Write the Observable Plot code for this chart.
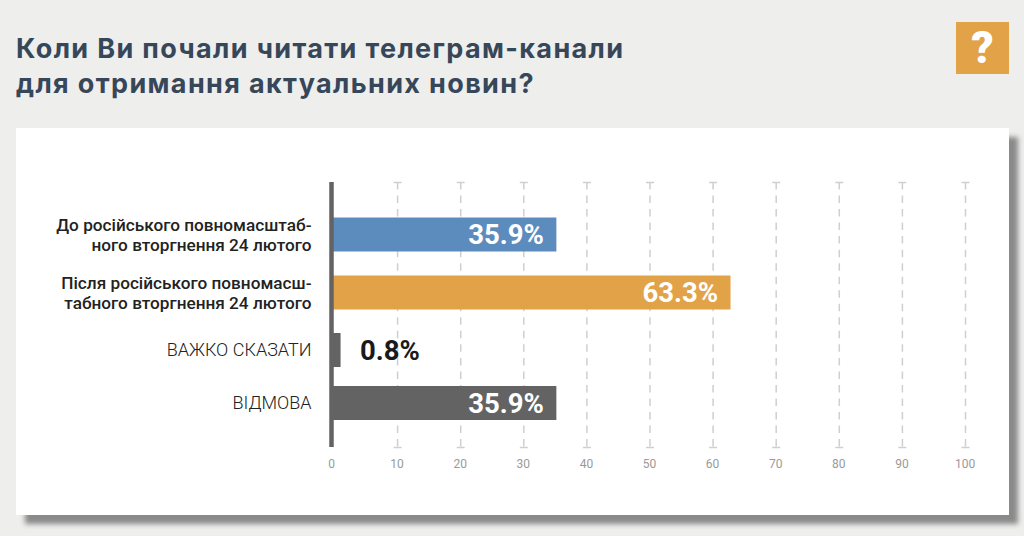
<!DOCTYPE html>
<html lang="uk">
<head>
<meta charset="utf-8">
<script src="https://cdn.jsdelivr.net/npm/d3@7"></script>
<script src="https://cdn.jsdelivr.net/npm/@observablehq/plot@0.6"></script>
<style>
html,body{margin:0;padding:0;width:1024px;height:536px;overflow:hidden;background:#eeeeed;}
h1{position:absolute;left:16px;top:31px;margin:0;font:700 27px/35px Inter,sans-serif;color:#36475a;letter-spacing:1.36px;white-space:nowrap;}
#badge{position:absolute;left:956px;top:22px;width:53px;height:52px;background:#e2a248;color:#fff;font:900 44px/52px Roboto,sans-serif;text-align:center;}
#card{position:absolute;left:16px;top:128px;width:993px;height:387px;background:#fff;box-shadow:9px 9px 5px #8a8a8a;}
#card svg{position:absolute;left:0;top:0;}
</style>
</head>
<body>
<h1>Коли Ви почали читати телеграм-канали<br>для отримання актуальних новин?</h1>
<div id="badge">?</div>
<div id="card"></div>
<script>
// Categories, in display order
const categories = [
  "До російського повномасштаб-\nного вторгнення 24 лютого",
  "Після російського повномасш-\nтабного вторгнення 24 лютого",
  "ВАЖКО СКАЗАТИ",
  "ВІДМОВА"
];
const emphasised = [true, true, false, false];
// Printed percentages
const printed = ["35.9%", "63.3%", "0.8%", "35.9%"];
// Bar lengths
const lengths = [35.4, 63.0, 1.2, 35.4];
const barColors = ["#5c8bbd", "#e2a248", "#636363", "#636363"];
const xTicks = [0, 10, 20, 30, 40, 50, 60, 70, 80, 90, 100];

const rows = categories.map((c, i) => ({
  row: i, category: c, strong: emphasised[i], label: printed[i], length: lengths[i], color: barColors[i]
}));
const gridTicks = xTicks.filter(d => d > 0);

// A short horizontal stroke: the cap at each end of a grid line
const cap = {draw(ctx, size) {
  const r = Math.sqrt(size / Math.PI);
  ctx.moveTo(-r, 0); ctx.lineTo(r, 0);
}};
const labelFont = {fontFamily: "Roboto, sans-serif", textAnchor: "end", dx: -23};
const valueFont = {fontFamily: "Roboto, sans-serif", fontSize: 27.5, fontWeight: 700, dy: 1};

const chart = Plot.plot({
  width: 993,
  height: 387,
  marginTop: 54,
  marginBottom: 68,
  marginLeft: 318,
  marginRight: 44,
  style: {background: "transparent"},
  x: {domain: [0, 100], range: [318, 949], axis: null},
  y: {type: "linear", domain: [0, 1, 2, 3], range: [106, 164, 221.5, 274.5], axis: null},
  marks: [
    Plot.ruleX(gridTicks, {x: d => d, stroke: "#cfcfcf", strokeWidth: 1.5, strokeDasharray: "7.5 6.03"}),
    Plot.dot(gridTicks, {x: d => d, frameAnchor: "top", symbol: cap, r: 4, stroke: "#cfcfcf", strokeWidth: 1.5}),
    Plot.dot(gridTicks, {x: d => d, frameAnchor: "bottom", symbol: cap, r: 4, stroke: "#cfcfcf", strokeWidth: 1.5}),
    Plot.ruleY(rows, {y: "row", x1: 0, x2: "length", stroke: "color", strokeWidth: 34, dx: -1}),
    Plot.ruleX([0], {x: d => d, stroke: "#636363", strokeWidth: 4.5, dx: -3}),
    Plot.text(xTicks.filter(d => d === 0), {x: d => d, text: String, frameAnchor: "bottom", dy: 20, dx: -3, fontFamily: "Roboto, sans-serif", fontSize: 12, fill: "#9a9a9a"}),
    Plot.text(gridTicks, {x: d => d, text: String, frameAnchor: "bottom", dy: 20, dx: -0.5, fontFamily: "Roboto, sans-serif", fontSize: 12, fill: "#9a9a9a"}),
    Plot.text(rows.filter(d => d.strong), {x: 0, y: "row", text: "category", ...labelFont, fontSize: 17.2, fontWeight: 500, lineHeight: 1.2, fill: "#222"}),
    Plot.text(rows.filter(d => !d.strong), {x: 0, y: "row", text: "category", ...labelFont, fontSize: 18, fontWeight: 300, fill: "#222"}),
    Plot.text(rows.filter(d => d.length > 5), {x: "length", y: "row", text: "label", ...valueFont, textAnchor: "end", dx: -14, fill: "#fff"}),
    Plot.text(rows.filter(d => d.length <= 5), {x: "length", y: "row", text: "label", ...valueFont, textAnchor: "start", dx: 18, fill: "#1a1a1a"})
  ]
});
document.getElementById("card").appendChild(chart);
</script>
</body>
</html>
